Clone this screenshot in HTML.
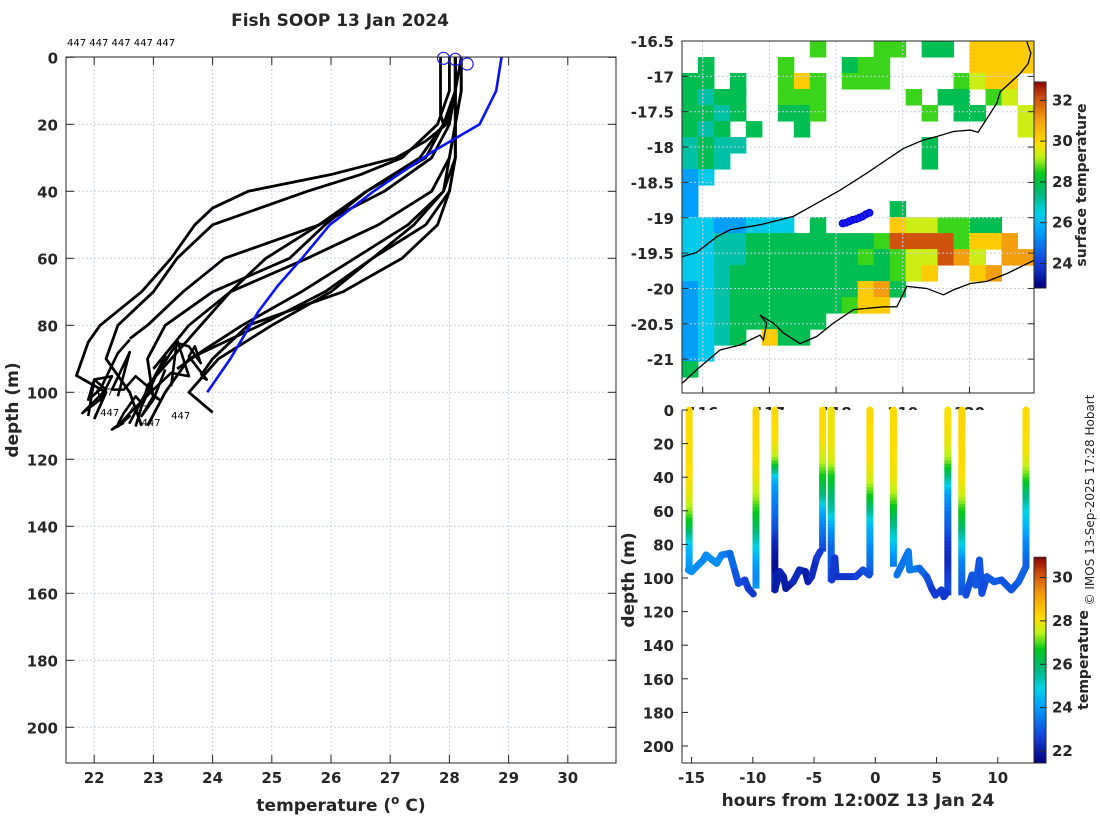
<!DOCTYPE html>
<html><head><meta charset="utf-8"><style>
html,body{margin:0;padding:0;background:#fff;}
svg{display:block;font-family:"DejaVu Sans","Liberation Sans",sans-serif;}
.tk{font-size:15px;font-weight:bold;fill:#262626;}
.lb{font-size:17px;font-weight:bold;fill:#262626;}
</style></head><body>
<svg id="fig" width="1100" height="820" viewBox="0 0 1100 820" xmlns="http://www.w3.org/2000/svg">
<rect width="1100" height="820" fill="#fff"/>
<g id="gl"></g>
<g id="gm"></g>
<g id="gb"></g>
<text x="340" y="26" text-anchor="middle" class="lb">Fish SOOP 13 Jan 2024</text>
<text x="341" y="811" text-anchor="middle" class="lb">temperature (<tspan dy="-7" font-size="12">o</tspan><tspan dy="7"> C)</tspan></text>
<text transform="translate(18,410) rotate(-90)" text-anchor="middle" class="lb">depth (m)</text>
<text transform="translate(634,580) rotate(-90)" text-anchor="middle" class="lb">depth (m)</text>
<text x="858" y="806" text-anchor="middle" class="lb">hours from 12:00Z 13 Jan 24</text>
<text transform="translate(1086,185) rotate(-90)" text-anchor="middle" font-size="14" font-weight="bold" fill="#262626">surface temperature</text>
<text transform="translate(1088,660) rotate(-90)" text-anchor="middle" font-size="14" font-weight="bold" fill="#262626">temperature</text>
<text transform="translate(1094,500) rotate(-90)" text-anchor="middle" font-size="12" fill="#262626">© IMOS 13-Sep-2025 17:28 Hobart</text>
<text x="67" y="46" font-size="10" fill="#000">447 447 447 447 447</text>
</svg>
<script>
// ---------- data ----------
const profTimes = [-15.2, -9.74, -8.2, -4.3, -3.6, -0.44, 1.48, 5.92, 7.06, 12.3];
const profDepths = [
 [0,10,20,30,40,50,60,70,80,90,95],
 [0,10,20,30,40,50,60,70,80,90,100,106],
 [0,10,20,25,30,35,40,45,50,60,70,80,85,90,95,100,108],
 [0,10,20,30,40,50,60,70,80,84],
 [0,10,17,20,30,40,50,60,70,80,90,102],
 [0,10,20,30,40,50,60,70,80,90,98],
 [0,10,20,30,40,50,60,70,80,88,93],
 [0,10,20,30,35,40,50,60,70,80,90,100,110],
 [0,10,20,30,40,50,60,70,80,90,100,110],
 [0,10,20,30,40,50,60,70,80,93]
];
const profTemps = [
 [28.1,28.1,28.1,28.1,28.0,27.8,27.2,26.2,24.6,24.0,23.8],
 [28.2,28.2,28.1,28.1,27.9,27.4,26.7,26.0,25.0,24.1,23.6,24.0],
 [28.1,28.1,27.95,27.6,27.1,26.0,24.6,24.0,23.7,23.3,22.8,22.1,21.9,21.8,21.7,22.2,22.0],
 [28.1,28.1,27.9,27.5,26.6,25.8,24.2,23.5,22.9,22.6],
 [27.85,27.85,27.85,27.9,27.6,26.6,25.9,25.3,24.0,23.2,22.9,23.0],
 [28.2,28.1,28.1,28.0,27.7,26.8,25.6,24.3,23.8,23.3,22.9],
 [28.1,28.1,28.1,28.0,27.9,27.3,26.4,25.5,24.5,23.8,23.4],
 [28.0,28.0,27.8,27.2,26.5,25.6,24.0,23.4,23.0,22.4,22.2,22.6,22.8],
 [28.2,28.2,28.1,28.1,28.0,27.6,26.7,25.9,24.8,23.6,23.2,22.9],
 [28.1,28.1,28.0,27.7,26.9,25.8,24.9,24.3,23.6,23.0]
];
const trackHours = [
 [-15.27,-15.0,-14.04,-13.82,-12.95,-12.54,-11.86,-11.45,-11.18,-10.64,-10.37,-9.96],
 [-8.2,-7.8,-7.5,-7.3,-6.7,-6.2,-5.7,-5.5,-5.2,-4.8,-4.5],
 [-3.55,-3.3,-3.2,-1.6,-1.0,-0.5],
 [1.76,2.7,2.8,3.6,4.2,4.6,4.9,5.4,5.6,5.8],
 [7.4,7.9,8.2,8.5,8.7,9.1,9.7,10.3,11.1,11.7,12.3]
];
const trackDepths = [
 [95.2,96.2,89.3,86.3,91.3,86.3,85.3,96.2,103.2,101.2,106.2,109.5],
 [107.1,96.2,99.2,106.2,102.2,95.2,96.2,102.2,99.2,88.3,84.3],
 [101.2,88,99.2,99.2,95.2,98.2],
 [98.2,84.3,95.2,94.2,99.2,106.2,110.2,107.1,111.1,109.1],
 [110.2,98.2,104.2,89.3,109.1,99.2,102.2,101.2,107.1,102.2,93.2]
];
const trackTemps = [
 [23.8,23.9,23.6,23.7,23.8,23.6,23.4,23.0,22.8,22.7,22.5,22.4],
 [21.9,22.0,22.2,21.8,22.1,22.3,22.0,21.9,22.1,22.4,22.6],
 [22.4,22.6,22.3,22.5,22.7,22.9],
 [23.3,23.4,23.6,23.3,23.0,22.6,22.4,22.6,22.3,22.5],
 [22.7,22.9,22.8,23.2,22.6,22.9,23.1,23.0,22.8,23.0,23.2]
];
const climDepths = [0,10,20,28,32,40,50,60,68,76,90,100];
const climTemps = [28.88,28.79,28.51,27.73,27.39,26.72,25.98,25.51,25.11,24.77,24.30,23.91];
const surfTemps = [27.9, 28.1, 28.3];
const surfDepths = [0.3, 0.6, 2.0];
const idLabelT = [22.0, 22.1, 22.8, 23.3, 22.6];
const idLabelD = [101, 107, 110, 108, 106];
const tempTicks = [22,23,24,25,26,27,28,29,30];
const depthTicks = [0,20,40,60,80,100,120,140,160,180,200];
const hourTicks = [-15,-10,-5,0,5,10];
const latTicks = [-16.5,-17,-17.5,-18,-18.5,-19,-19.5,-20,-20.5,-21];
const lonTicks = [116,117,118,119,120];
const sstTicks = [24,26,28,30,32];
const tTicks = [22,24,26,28,30];
// SST grid (codes -> temperatures), 22x22 cells
const sstCodeTemps = {'1':24.5,'2':25.5,'3':26.3,'4':27.0,'5':27.8,'6':28.6,'7':29.3,'8':30.2,'9':31.0,'A':32.0};
const sstRows = [
 "........6...66.55.8888",
 ".5....6...566.....8888",
 "55.5..686.666....6788.",
 "5455..666.....6.55.67.",
 "5545..556......6.55..7",
 "545.5..5.............7",
 "4544...........5......",
 "454............5......",
 "23....................",
 "2.....................",
 "2............5........",
 "3322333.5....8776655..",
 "3344555555556AAAA6889.",
 "3344555555565677A97.99",
 "3345555555555678..89..",
 "23455555555895........",
 "2345555555688.........",
 "234555555.............",
 "2345.855..............",
 "23....................",
 "5.....................",
 "......................"
];
const gridLon0 = 115.69, gridLonStep = 0.2395, gridLat0 = -16.5, gridLatStep = 0.2264;
const isoLon = [115.695,115.91,116.21,116.41,116.86,117.36,117.76,118.06,118.46,118.71,119.01,119.31,119.51,119.76,120.01,120.13,120.41,120.46,120.76,120.88,120.92,120.86];
const isoLat = [-19.55,-19.49,-19.27,-19.17,-19.10,-18.98,-18.77,-18.61,-18.37,-18.21,-18.02,-17.90,-17.85,-17.78,-17.76,-17.79,-17.38,-17.22,-16.96,-16.82,-16.67,-16.51];
const coastLon = [115.695,115.91,116.11,116.26,116.56,116.86,116.91,116.96,116.86,117.06,117.21,117.46,117.71,117.96,118.26,118.71,118.91,119.01,119.06,119.36,119.61,119.76,120.01,120.26,120.56,120.97];
const coastLat = [-21.34,-21.15,-20.99,-20.87,-20.80,-20.66,-20.73,-20.49,-20.38,-20.49,-20.63,-20.78,-20.68,-20.49,-20.30,-20.26,-20.26,-20.07,-19.97,-20.00,-20.09,-20.02,-19.93,-19.90,-19.79,-19.60];
const shipLon = [118.1,118.15,118.2,118.25,118.3,118.35,118.4,118.45,118.5];
const shipLat = [-19.08,-19.07,-19.05,-19.03,-19.02,-19.0,-18.98,-18.95,-18.93];

// ---------- helpers ----------
const NS = "http://www.w3.org/2000/svg";
function mk(tag, parent, attrs){const e=document.createElementNS(NS,tag);for(const k in attrs)e.setAttribute(k,attrs[k]);parent.appendChild(e);return e;}
const cmStops=[[0,[0,0,0.5]],[0.12,[0.08,0.25,0.85]],[0.28,[0,0.65,1]],[0.36,[0,0.82,0.9]],[0.45,[0,0.72,0.5]],[0.55,[0,0.78,0.1]],[0.63,[0.75,0.95,0.1]],[0.70,[1,0.87,0]],[0.82,[0.95,0.6,0.05]],[0.92,[0.8,0.3,0.05]],[1,[0.55,0,0]]];
function cmap(f){f=Math.max(0,Math.min(1,f));for(let i=1;i<cmStops.length;i++){if(f<=cmStops[i][0]){const a=cmStops[i-1],b=cmStops[i];const t=(f-a[0])/(b[0]-a[0]);const c=a[1].map((v,j)=>Math.round(255*(v+(b[1][j]-v)*t)));return `rgb(${c[0]},${c[1]},${c[2]})`;}}return "rgb(140,0,0)";}
function interp(xs,ys,x){for(let i=1;i<xs.length;i++){if(x<=xs[i]){const t=(x-xs[i-1])/(xs[i]-xs[i-1]);return ys[i-1]+(ys[i]-ys[i-1])*t;}}return ys[ys.length-1];}

// ---------- left profile panel ----------
const gl=document.getElementById('gl');
const xT=T=>94.2+(T-22)*59.2, yD=d=>57.3+d*3.35;
const L={x0:66,x1:616,y0:57,y1:763};
tempTicks.forEach(t=>{const l=mk('line',gl,{x1:xT(t),x2:xT(t),y1:L.y0,y2:L.y1,stroke:'#c9cfe8','stroke-dasharray':'2,2','stroke-width':1});

});
depthTicks.forEach(d=>{const l=mk('line',gl,{x1:L.x0,x2:L.x1,y1:yD(d),y2:yD(d),stroke:'#c9cfe8','stroke-dasharray':'2,2','stroke-width':1});

});
profDepths.forEach((ds,i)=>{const p=mk('polyline',gl,{points:ds.map((d,j)=>xT(profTemps[i][j])+','+yD(d)).join(' '),fill:'none',stroke:'#000','stroke-width':2.8,'stroke-linejoin':'round'});

});
trackHours.forEach((hs,i)=>{const p=mk('polyline',gl,{points:hs.map((h,j)=>xT(trackTemps[i][j])+','+yD(trackDepths[i][j])).join(' '),fill:'none',stroke:'#000','stroke-width':2.6,'stroke-linejoin':'round'});

});
{const p=mk('polyline',gl,{points:climDepths.map((d,j)=>xT(climTemps[j])+','+yD(d)).join(' '),fill:'none',stroke:'#0a14f0','stroke-width':2.6});

}
surfTemps.forEach((t,i)=>{const c=mk('circle',gl,{cx:xT(t),cy:yD(surfDepths[i]),r:6,fill:'none',stroke:'#1a1aff','stroke-width':1.2});

});
idLabelT.forEach((t,i)=>{const tx=mk('text',gl,{x:xT(t),y:yD(idLabelD[i]),'font-size':10,fill:'#000'});tx.textContent='447';

});
{const r=mk('rect',gl,{x:L.x0,y:L.y0,width:L.x1-L.x0,height:L.y1-L.y0,fill:'none',stroke:'#262626','stroke-width':1});

}
tempTicks.forEach(t=>{mk('line',gl,{x1:xT(t),x2:xT(t),y1:L.y1,y2:L.y1-8,stroke:'#262626'});mk('line',gl,{x1:xT(t),x2:xT(t),y1:L.y0,y2:L.y0+8,stroke:'#262626'});
const tx=mk('text',gl,{x:xT(t),y:783,'text-anchor':'middle',class:'tk'});tx.textContent=t;

});
depthTicks.forEach(d=>{mk('line',gl,{x1:L.x0,x2:L.x0+8,y1:yD(d),y2:yD(d),stroke:'#262626'});mk('line',gl,{x1:L.x1,x2:L.x1-8,y1:yD(d),y2:yD(d),stroke:'#262626'});
const tx=mk('text',gl,{x:58,y:yD(d)+6,'text-anchor':'end',class:'tk','font-size':16});tx.textContent=d;

});

// ---------- map panel ----------
const gm=document.getElementById('gm');
const M={x0:682,x1:1034,y0:41,y1:393};
const xLon=l=>682+(l-115.69)*66.7, yLat=a=>41+(-16.5-a)*70.7;
sstRows.forEach((row,r)=>{for(let c=0;c<row.length;c++){const ch=row[c];if(ch==='.')continue;const v=sstCodeTemps[ch];
const lon0=gridLon0+c*gridLonStep, lat0=gridLat0-r*gridLatStep;
const x=xLon(lon0), y=yLat(lat0);
const e=mk('rect',gm,{x:x,y:y,width:xLon(lon0+gridLonStep)-x+0.5,height:yLat(lat0-gridLatStep)-y+0.5,fill:cmap((v-22.8)/10.1)});

}});
lonTicks.forEach(t=>{const l=mk('line',gm,{x1:xLon(t),x2:xLon(t),y1:M.y0,y2:M.y1,stroke:'#c9cfe8','stroke-dasharray':'2,2'});

});
latTicks.forEach(t=>{const l=mk('line',gm,{x1:M.x0,x2:M.x1,y1:yLat(t),y2:yLat(t),stroke:'#c9cfe8','stroke-dasharray':'2,2'});

});
{const p=mk('polyline',gm,{points:isoLon.map((l,i)=>xLon(l)+','+yLat(isoLat[i])).join(' '),fill:'none',stroke:'#000','stroke-width':1.3});

}
{const p=mk('polyline',gm,{points:coastLon.map((l,i)=>xLon(l)+','+yLat(coastLat[i])).join(' '),fill:'none',stroke:'#000','stroke-width':1.3});

}
shipLon.forEach((l,i)=>{const c=mk('circle',gm,{cx:xLon(l),cy:yLat(shipLat[i]),r:3.5,fill:'#1a1aff',stroke:'#0000cc'});

});
{const r=mk('rect',gm,{x:M.x0,y:M.y0,width:M.x1-M.x0,height:M.y1-M.y0,fill:'none',stroke:'#262626'});

}
latTicks.forEach(t=>{mk('line',gm,{x1:M.x0,x2:M.x0+6,y1:yLat(t),y2:yLat(t),stroke:'#262626'});mk('line',gm,{x1:M.x1,x2:M.x1-6,y1:yLat(t),y2:yLat(t),stroke:'#262626'});
const tx=mk('text',gm,{x:674,y:yLat(t)+6,'text-anchor':'end',class:'tk'});tx.textContent=t;

});
lonTicks.forEach(t=>{mk('line',gm,{x1:xLon(t),x2:xLon(t),y1:M.y1,y2:M.y1-6,stroke:'#262626'});
const tx=mk('text',gm,{x:xLon(t),y:418,'text-anchor':'middle',class:'tk'});tx.textContent=t;

});
// sst colorbar
for(let v=22.8;v<32.9;v+=0.1){const y0=288-(v-22.8)*20.4;mk('rect',gm,{x:1034,y:y0-2.1,width:12,height:2.3,fill:cmap((v-22.8)/10.1)});}
{const r=mk('rect',gm,{x:1034,y:82,width:12,height:206,fill:'none',stroke:'#262626'});

}
sstTicks.forEach(t=>{const y=288-(t-22.8)*20.4;mk('line',gm,{x1:1040,x2:1046,y1:y,y2:y,stroke:'#262626'});
const tx=mk('text',gm,{x:1052,y:y+5,class:'tk','font-size':13});tx.textContent=t;

});

// ---------- bottom depth-time panel ----------
const gb=document.getElementById('gb');
const B={x0:682,x1:1034,y0:410,y1:763};
const xH=h=>875.3+h*12.25, yB=d=>410+d*1.68;
mk('rect',gb,{x:B.x0+1,y:B.y0,width:B.x1-B.x0-1,height:B.y1-B.y0,fill:'#fff'});
const cT=v=>cmap((v-21.45)/9.45);
profTimes.forEach((t,i)=>{const ds=profDepths[i],ts=profTemps[i];const maxD=ds[ds.length-1];
const g=mk('g',gb,{});


for(let d=0;d<maxD;d+=2){const d2=Math.min(maxD,d+2);const v=interp(ds,ts,(d+d2)/2);
mk('line',g,{x1:xH(t),x2:xH(t),y1:yB(d),y2:yB(d2)+0.5,stroke:cT(v),'stroke-width':7,'stroke-linecap':d===0?'round':'butt'});}});
trackHours.forEach((hs,i)=>{const g=mk('g',gb,{});


for(let j=1;j<hs.length;j++){mk('line',g,{x1:xH(hs[j-1]),x2:xH(hs[j]),y1:yB(trackDepths[i][j-1]),y2:yB(trackDepths[i][j]),stroke:cT((trackTemps[i][j-1]+trackTemps[i][j])/2),'stroke-width':7,'stroke-linecap':'round'});}});
mk('line',gb,{x1:B.x0,x2:B.x0,y1:B.y0,y2:B.y1,stroke:'#262626'});
mk('line',gb,{x1:B.x0,x2:B.x1,y1:B.y1,y2:B.y1,stroke:'#262626'});
depthTicks.forEach(d=>{mk('line',gb,{x1:B.x0,x2:B.x0+6,y1:yB(d),y2:yB(d),stroke:'#262626'});
const tx=mk('text',gb,{x:674,y:yB(d)+6,'text-anchor':'end',class:'tk'});tx.textContent=d;

});
hourTicks.forEach(h=>{mk('line',gb,{x1:xH(h),x2:xH(h),y1:B.y1,y2:B.y1-6,stroke:'#262626'});
const tx=mk('text',gb,{x:xH(h),y:783,'text-anchor':'middle',class:'tk'});tx.textContent=h;

});
for(let v=21.45;v<30.9;v+=0.1){const y0=763-(v-21.45)*21.7;mk('rect',gb,{x:1034,y:y0-2.3,width:12,height:2.5,fill:cT(v)});}
{const r=mk('rect',gb,{x:1034,y:558,width:12,height:205,fill:'none',stroke:'#262626'});

}
tTicks.forEach(t=>{const y=763-(t-21.45)*21.7;mk('line',gb,{x1:1040,x2:1046,y1:y,y2:y,stroke:'#262626'});
const tx=mk('text',gb,{x:1052,y:y+5,class:'tk','font-size':13});tx.textContent=t;

});
</script>
</body></html>
